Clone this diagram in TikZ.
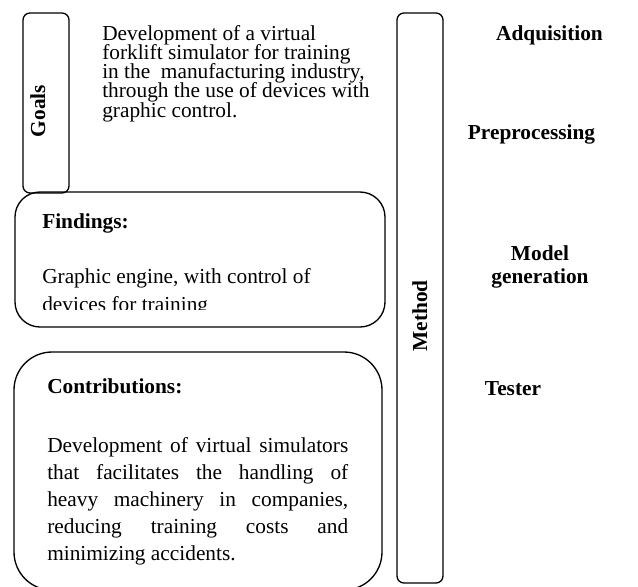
\documentclass[tikz,border=0pt]{standalone}
\usepackage{fontspec}
\setmainfont{Liberation Serif}
\usetikzlibrary{positioning}

\newcommand{\fullline}[1]{\makebox[225.75pt][s]{#1}}

\tikzset{
	panel/.style = {draw, line width = 1pt, inner sep = 0pt},
	heading/.style = {font = {\fontsize{16}{17.25}\selectfont\bfseries}}
}

\begin{document}
\begin{tikzpicture}[x = 0.75pt, y = -0.75pt, every node/.style = {font = {\fontsize{16}{14.4}\selectfont\lineskiplimit=-\maxdimen}, inner sep = 0pt}]

	\useasboundingbox (0, 0) rectangle (638, 586);

	% Panels
	
	\node [panel, rounded corners = 5.25pt, minimum width = 34.5pt, minimum height = 135pt] (goals) at (46, 103) {};
	\node [panel, rounded corners = 18.75pt, minimum width = 277.5pt, minimum height = 101.25pt] (findings) at (200, 259.5) {};
	\node [panel, rounded corners = 28.5pt, minimum width = 276pt, minimum height = 178.5pt] (contrib) at (198, 471) {};
	\node [panel, rounded corners = 5.25pt, minimum width = 34.5pt, minimum height = 427.5pt] (method) at (420, 298) {};
	
	% Side titles
	
	\node [heading, rotate = 90, anchor = base] (goalstitle) at (45, 111) {Goals};
	\node [heading, rotate = 90, anchor = base] (methodtitle) at (427, 316) {Method};
	
	% Goals text (base is the last line)
	
	\node [anchor = base west, align = left] (goalstext) at (102, 117) {Development of a virtual\\
		forklift simulator for training\\
		in the\ \ manufacturing industry,\\
		through the use of devices with\\
		graphic control.};
	
	% Findings text (cut at the bottom)
	
	\node [heading, anchor = base west] (findhead) at (42, 228) {Findings:};
	\begin{scope}
		\clip (15, 192) rectangle (385, 309);
		\node [anchor = base west, align = left, font = {\fontsize{16}{21}\selectfont}] (findtext) at (42, 311) {Graphic engine, with control of\\
			devices for training};
	\end{scope}
	
	% Contributions text
	
	\node [heading, anchor = base west] (contribhead) at (47, 393) {Contributions:};
	\node [anchor = base west, align = left, font = {\fontsize{16}{20.25}\selectfont}] (contribtext) at (47, 560) {\fullline{Development of virtual simulators}\\
		\fullline{that facilitates the handling of}\\
		\fullline{heavy machinery in companies,}\\
		\fullline{reducing training costs and}\\
		minimizing accidents.};
	
	% Method steps
	
	\node [heading, anchor = base] (adq) at (549.5, 40) {Adquisition};
	\node [heading, anchor = base] (prep) at (531.5, 139) {Preprocessing};
	\node [heading, align = center] (model) at (540, 267) {Model\\generation};
	\node [heading, anchor = base] (tester) at (513, 395) {Tester};
	
\end{tikzpicture}
\end{document}
